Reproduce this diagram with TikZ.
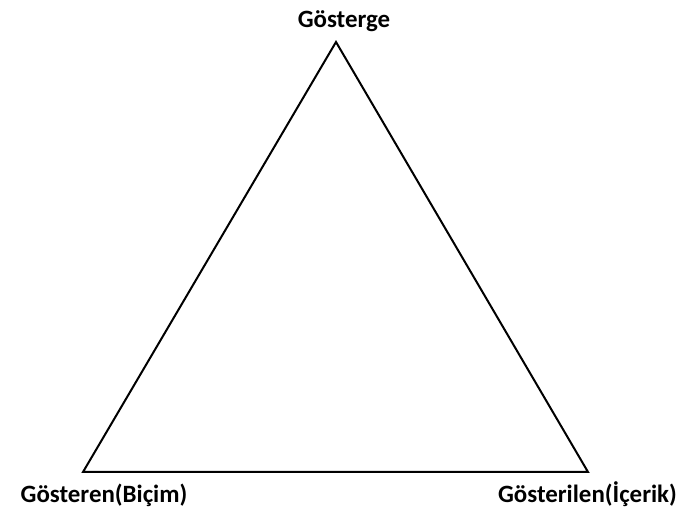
\documentclass[tikz,border=0pt]{standalone}
\usepackage{fontspec}
\setmainfont{Carlito}
\begin{document}
\begin{tikzpicture}[x=1bp,y=1bp,
  lbl/.style={inner sep=0pt,anchor=base,font=\fontsize{25}{28}\selectfont\bfseries}]
\useasboundingbox (0,0) rectangle (698,510);
\coordinate (T) at (336,468);
\coordinate (L) at (83,38);
\coordinate (R) at (588,38);
\draw[line width=2bp,line join=miter] (T) -- (L) -- (R) -- cycle;
\node[lbl] (top) at (344,482) {Gösterge};
\node[lbl] (left) at (104,7) {Gösteren(Biçim)};
\node[lbl] (right) at (587.5,7) {Gösterilen(İçerik)};
\end{tikzpicture}
\end{document}
